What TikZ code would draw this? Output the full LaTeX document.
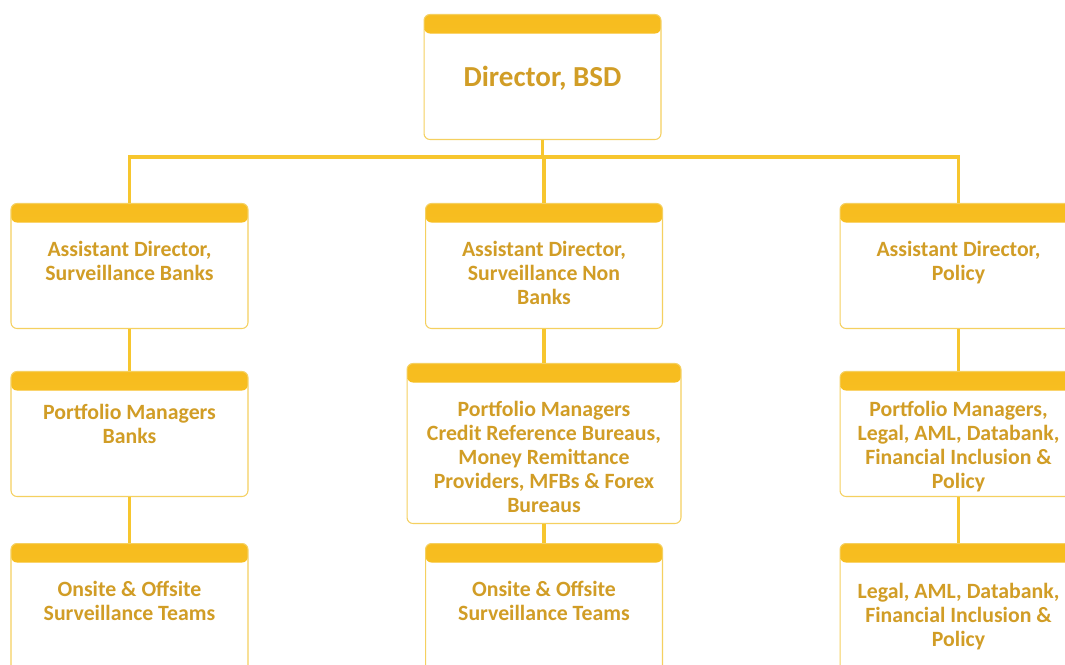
\documentclass[tikz,border=0pt]{standalone}
\usepackage{fontspec}
\setmainfont{Carlito}
\definecolor{bandtop}{HTML}{F7BC1E}
\definecolor{bandbottom}{HTML}{FBCB30}
\definecolor{linkyellow}{HTML}{F7C62E}
\definecolor{boxline}{HTML}{F5D060}
\definecolor{gold}{HTML}{D19D26}

\begin{document}
\begin{tikzpicture}[x=0.02cm, y=-0.02cm,
  box/.style = {draw=boxline, line width=0.6pt, fill=white,
    rounded corners=0.12cm, anchor=north,
    minimum width=4.74cm, minimum height=2.5cm,
    path picture={\shade[top color=bandtop, bottom color=bandbottom]
      (path picture bounding box.north west)
      rectangle ([yshift=-0.38cm]path picture bounding box.north east);}},
  boxtext/.style = {anchor=north, yshift=#1, inner sep=0pt,
    align=center, text=gold,
    font=\bfseries\fontsize{12.4}{13.7}\selectfont},
  boxtext/.default = -0.76cm,
  conn/.style = {draw=linkyellow, line width=2.2pt}]
  \clip (0,0) rectangle (1065,665);
  \fill[white] (0,0) rectangle (1065,665);

  % top
  \node[box, label={[boxtext=-1.04cm, font=\bfseries\fontsize{16.5}{18}\selectfont]north:Director, BSD}] (dir) at (542.5,14) {};

  % assistant directors
  \node[box, label={[boxtext]north:Assistant Director,\\Surveillance Banks}] (adb) at (129.5,203) {};
  \node[box, label={[boxtext]north:Assistant Director,\\Surveillance Non\\Banks}] (adn) at (544,203) {};
  \node[box, label={[boxtext]north:Assistant Director,\\Policy}] (adp) at (958.5,203) {};

  % portfolio managers
  \node[box, label={[boxtext=-0.66cm]north:Portfolio Managers\\Banks}] (pmb) at (129.5,371) {};
  \node[box, minimum width=5.48cm, minimum height=3.2cm,
    label={[boxtext]north:Portfolio Managers\\Credit Reference Bureaus,\\Money Remittance\\Providers, MFBs \& Forex\\Bureaus}] (pmn) at (544,363) {};
  \node[box, label={[boxtext=-0.6cm]north:Portfolio Managers,\\Legal, AML, Databank,\\Financial Inclusion \&\\Policy}] (pmp) at (958.5,371) {};

  % teams
  \node[box, minimum height=2.8cm, label={[boxtext]north:Onsite \& Offsite\\Surveillance Teams}] (osb) at (129.5,543) {};
  \node[box, minimum height=2.8cm, label={[boxtext]north:Onsite \& Offsite\\Surveillance Teams}] (osn) at (544,543) {};
  \node[box, minimum height=2.8cm, label={[boxtext=-0.8cm]north:Legal, AML, Databank,\\Financial Inclusion \&\\Policy}] (lap) at (958.5,543) {};

  % links
  \coordinate (bus) at (0,157);
  \draw[conn] (dir.south) -- (dir.south |- bus);
  \draw[conn] (adb.north) -- (adb.north |- bus) -- (adp.north |- bus) -- (adp.north);
  \draw[conn] (adn.north) -- (adn.north |- bus);
  \draw[conn] (adb.south) -- (pmb.north);
  \draw[conn] (adn.south) -- (pmn.north);
  \draw[conn] (adp.south) -- (pmp.north);
  \draw[conn] (pmb.south) -- (osb.north);
  \draw[conn] (pmn.south) -- (osn.north);
  \draw[conn] (pmp.south) -- (lap.north);
\end{tikzpicture}
\end{document}
